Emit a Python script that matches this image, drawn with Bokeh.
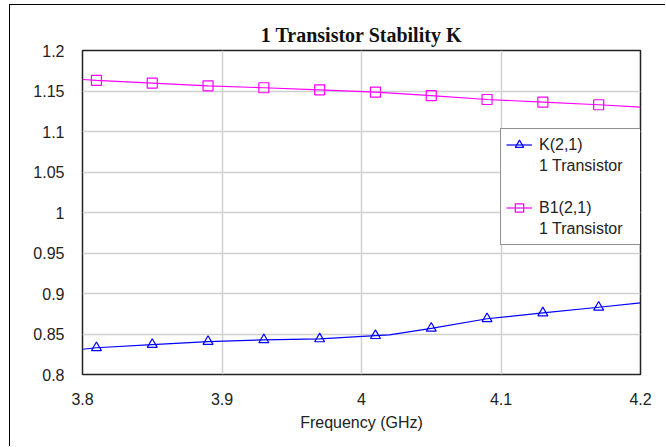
from bokeh.plotting import figure
from bokeh.models import (ColumnDataSource, Range1d, FixedTicker, Legend, LegendItem)
from bokeh.embed import file_html
from bokeh.resources import INLINE

# ---- data ----
k_line_freq = [3.80, 3.81, 3.85, 3.89, 3.93, 3.97, 4.01, 4.02, 4.05, 4.09, 4.13, 4.17, 4.20]
k_line_val = [0.8312, 0.833, 0.837, 0.8407, 0.8428, 0.844, 0.848, 0.849, 0.857, 0.8688, 0.876, 0.883, 0.8885]

b1_line_freq = [3.80, 3.81, 3.85, 3.89, 3.93, 3.97, 4.01, 4.05, 4.09, 4.13, 4.17, 4.20]
b1_line_val = [1.1642, 1.163, 1.1596, 1.1564, 1.154, 1.1515, 1.1486, 1.1444, 1.1395, 1.1362, 1.133, 1.130]

marker_freq = [3.81, 3.85, 3.89, 3.93, 3.97, 4.01, 4.05, 4.09, 4.13, 4.17]
k_marker_val = [0.833, 0.837, 0.8407, 0.8428, 0.844, 0.848, 0.857, 0.8688, 0.876, 0.883]
b1_marker_val = [1.163, 1.1596, 1.1564, 1.154, 1.1515, 1.1486, 1.1444, 1.1395, 1.1362, 1.133]

x_ticks = [3.8, 3.9, 4.0, 4.1, 4.2]
x_tick_labels = ["3.8", "3.9", "4", "4.1", "4.2"]
y_ticks = [0.8, 0.85, 0.9, 0.95, 1.0, 1.05, 1.1, 1.15, 1.2]
y_tick_labels = ["0.8", "0.85", "0.9", "0.95", "1", "1.05", "1.1", "1.15", "1.2"]

title_text = "1 Transistor Stability K"
x_label = "Frequency (GHz)"
k_name = "K(2,1)"
b1_name = "B1(2,1)"
sub_name = "1 Transistor"

K_COLOR = "#0000ff"
B1_COLOR = "#ff00ff"
FONT = "Liberation Sans"

p = figure(width=656, height=442, x_range=Range1d(3.8, 4.2), y_range=Range1d(0.8, 1.2),
           output_backend="svg", toolbar_location=None, title=title_text,
           min_border_left=72, min_border_top=45, min_border_right=26, min_border_bottom=73)
p.styles = {"border-left": "1px solid #000", "border-top": "1px solid #000",
            "margin-left": "9px", "margin-top": "4px"}

p.title.align = "center"
p.title.text_font = "Liberation Serif"
p.title.text_font_style = "bold"
p.title.text_font_size = "20px"
p.title.text_color = "#111111"
p.title.standoff = 9

p.outline_line_color = "#222222"
p.outline_line_width = 1.5
p.background_fill_color = "white"
p.border_fill_color = "white"

for ax in (p.xaxis[0], p.yaxis[0]):
    ax.axis_line_color = None
    ax.major_tick_line_color = None
    ax.minor_tick_line_color = None
    ax.major_tick_in = 0
    ax.major_tick_out = 0
    ax.minor_tick_in = 0
    ax.minor_tick_out = 0
    ax.major_label_text_font = FONT
    ax.major_label_text_font_size = "16px"
    ax.major_label_text_color = "#222222"

p.xaxis.ticker = FixedTicker(ticks=x_ticks)
p.yaxis.ticker = FixedTicker(ticks=y_ticks)
p.xaxis.major_label_overrides = {t: l for t, l in zip(x_ticks, x_tick_labels)}
p.yaxis.major_label_overrides = {t: l for t, l in zip(y_ticks, y_tick_labels)}
p.xaxis.major_label_standoff = 18
p.yaxis.major_label_standoff = 18
p.xaxis.axis_label = x_label
p.xaxis.axis_label_text_font = FONT
p.xaxis.axis_label_text_font_size = "16px"
p.xaxis.axis_label_text_font_style = "normal"
p.xaxis.axis_label_text_color = "#222222"
p.xaxis.axis_label_standoff = 6

p.xgrid.grid_line_color = "#d0d0d0"
p.ygrid.grid_line_color = "#d0d0d0"
p.xgrid.grid_line_width = 1.5
p.ygrid.grid_line_width = 1.5

k_line = p.line(k_line_freq, k_line_val, line_color=K_COLOR, line_width=1.2)
k_mark = p.scatter(marker_freq, k_marker_val, marker="triangle", size=10,
                   line_color=K_COLOR, fill_color=None, line_width=1.2)
b1_line = p.line(b1_line_freq, b1_line_val, line_color=B1_COLOR, line_width=1.2)
b1_mark = p.scatter(marker_freq, b1_marker_val, marker="square", size=10,
                    line_color=B1_COLOR, fill_color=None, line_width=1.2)

dummy = p.line([], [], line_alpha=0)

legend = Legend(items=[
    LegendItem(label=k_name, renderers=[k_line, k_mark]),
    LegendItem(label=sub_name, renderers=[dummy]),
    LegendItem(label=" ", renderers=[dummy]),
    LegendItem(label=b1_name, renderers=[b1_line, b1_mark]),
    LegendItem(label=sub_name, renderers=[dummy]),
], location=(418, 129))
legend.label_text_font = FONT
legend.label_text_font_size = "16px"
legend.label_text_color = "#222222"
legend.label_height = 21
legend.label_width = 100
legend.glyph_height = 21
legend.glyph_width = 26
legend.label_standoff = 7
legend.spacing = 0
legend.padding = 5
legend.margin = 0
legend.border_line_color = "#222222"
legend.border_line_width = 1
legend.background_fill_color = "white"
legend.background_fill_alpha = 1.0
p.add_layout(legend, "center")

open("out.html", "w").write(file_html(p, INLINE))
